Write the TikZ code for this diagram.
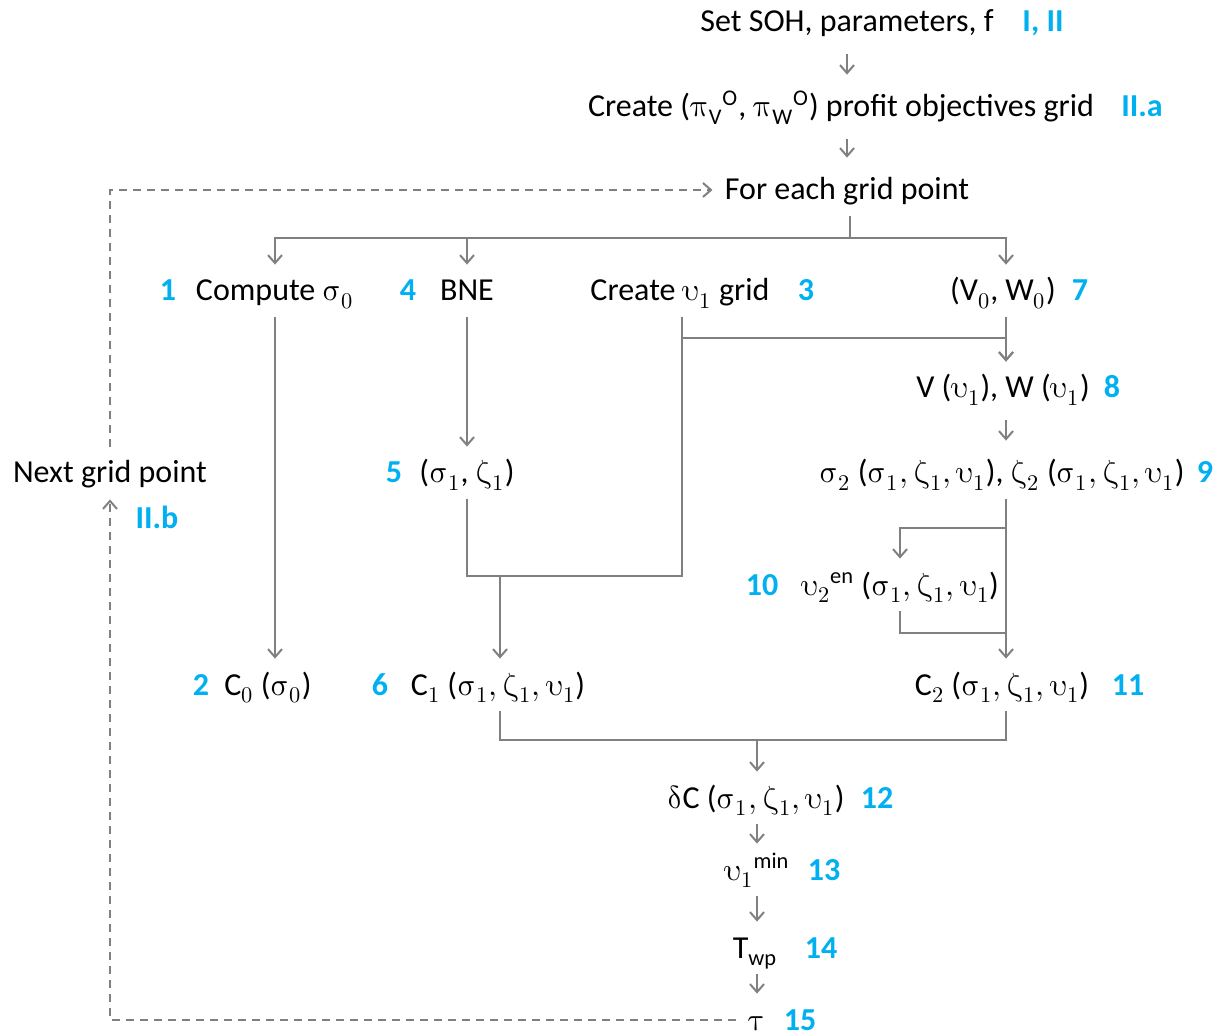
\documentclass[tikz,border=0pt]{standalone}
\usepackage{amsmath, amssymb}
\usepackage{fontspec}
\usepackage[math-style=upright]{unicode-math}
\setmainfont{Carlito}
\setmathfont{Latin Modern Math}
\usetikzlibrary{arrows.meta}
\definecolor{linegray}{HTML}{808080}
\definecolor{stepblue}{HTML}{00B0F0}

\begin{document}
\begin{tikzpicture}[x=0.5pt, y=-0.5pt,
  txt/.style={font=\fontsize{16}{19}\selectfont, text height=13pt, text depth=3pt, inner xsep=2pt, inner ysep=5pt},
  num/.style={txt, text=stepblue, font=\fontsize{16}{19}\selectfont\bfseries},
  flow/.style={draw=linegray, line width=1pt, -{Straight Barb[length=4pt,width=7pt]}},
  link/.style={draw=linegray, line width=1pt},
  back/.style={flow, dash pattern=on 4pt off 3pt},
  short/.style={shorten <=3pt, shorten >=3pt}]

\useasboundingbox (0,0) rectangle (1229,1036);

% set up
\node[txt] (set) at (847,22) {Set SOH, parameters, f};
\node[num] (nI) at (1043,22) {I, II};
\node[txt] (obj) at (841,107) {Create ($\pi$\textsubscript{V}\textsuperscript{O}, $\pi$\textsubscript{W}\textsuperscript{O}) profit objectives grid};
\node[num] (nIIa) at (1142,107) {II.a};
\node[txt] (each) at (847,190) {For each grid point};

% first row
\node[txt] (cmp) at (275,291) {Compute $\sigma_0$};
\node[num] (n1) at (168,291) {1};
\node[txt] (bne) at (467,291) {BNE};
\node[num] (n4) at (408,291) {4};
\node[txt] (ugrid) at (680,291) {Create $\upsilon_1$ grid};
\node[num] (n3) at (806,291) {3};
\node[txt] (vw0) at (1003,291) {(V$_0$, W$_0$)};
\node[num] (n7) at (1080,291) {7};

% middle
\node[txt] (vw1) at (1003,388) {V ($\upsilon_1$), W ($\upsilon_1$)};
\node[num] (n8) at (1112,388) {8};
\node[txt] (nextpt) at (110,473) {Next grid point};
\node[num] (nIIb) at (157,519) {II.b};
\node[txt] (sz1) at (467,473) {($\sigma_1$, $\zeta_1$)};
\node[num] (n5) at (394,473) {5};
\node[txt] (sz2) at (1002,473) {$\sigma_2$ ($\sigma_1, \zeta_1, \upsilon_1$), $\zeta_2$ ($\sigma_1, \zeta_1, \upsilon_1$)};
\node[num] (n9) at (1205,473) {9};
\node[txt] (uen) at (900,585) {$\upsilon_2$\textsuperscript{en} ($\sigma_1, \zeta_1, \upsilon_1$)};
\node[num] (n10) at (762,585) {10};

% costs
\node[txt] (czero) at (268,685) {C$_0$ ($\sigma_0$)};
\node[num] (n2) at (201,685) {2};
\node[txt] (cone) at (498,685) {C$_1$ ($\sigma_1, \zeta_1, \upsilon_1$)};
\node[num] (n6) at (380,685) {6};
\node[txt] (ctwo) at (1002,685) {C$_2$ ($\sigma_1, \zeta_1, \upsilon_1$)};
\node[num] (n11) at (1128,685) {11};

% result chain
\node[txt] (dc) at (756,798) {$\delta$C ($\sigma_1, \zeta_1, \upsilon_1$)};
\node[num] (n12) at (877,798) {12};
\node[txt] (umin) at (757,870) {$\upsilon_1$\textsuperscript{min}};
\node[num] (n13) at (824,870) {13};
\node[txt] (twp) at (755,948) {T\textsubscript{wp}};
\node[num] (n14) at (821,948) {14};
\node[txt] (tau) at (757,1020) {$\tau$};
\node[num] (n15) at (800,1020) {15};

% junctions
\coordinate (fork) at (850,238);
\coordinate (umerge) at (682,338);
\coordinate (cmerge) at (500,576);
\coordinate (sfork) at (1006,528);
\coordinate (sjoin) at (1006,633);
\coordinate (cjoin) at (757,740);

% arrows
\draw[flow, short] (set.south) -- (set.south |- obj.north);
\draw[flow, short] (obj.south -| set.south) -- (set.south |- each.north);
\draw[link] (fork |- each.south) -- (fork);
\draw[flow] (fork) -| (cmp.north);
\draw[flow] (fork) -| (bne.north);
\draw[flow] (fork) -| (sfork |- vw0.north);
\draw[flow] (cmp.south) -- (cmp.south |- czero.north);
\draw[flow] (bne.south) -- (sz1.north);
\draw[flow] (sfork |- vw0.south) -- (sfork |- vw1.north);
\draw[flow] (umerge) -| (sfork |- vw1.north);
\draw[link] (umerge |- ugrid.south) -- (umerge |- cmerge) -- (cmerge);
\draw[link] (sz1.south) |- (cmerge);
\draw[flow] (cmerge) -- (cmerge |- cone.north);
\draw[flow, short] (sfork |- vw1.south) -- (sfork |- sz2.north);
\draw[flow] (sfork |- sz2.south) -- (sfork |- ctwo.north);
\draw[flow] (sfork) -| (uen.north);
\draw[link] (uen.south) |- (sjoin);
\draw[link] (cmerge |- cone.south) |- (cjoin) -| (sfork |- ctwo.south);
\draw[flow] (cjoin) -- (cjoin |- dc.north);
\draw[flow] (cjoin |- dc.south) -- (cjoin |- umin.north);
\draw[flow] (cjoin |- umin.south) -- (cjoin |- twp.north);
\draw[flow] (cjoin |- twp.south) -- (tau.north);

% loop back
\draw[back, shorten <=4pt] (tau.west) -| (nextpt.south);
\draw[back, shorten >=4pt] (nextpt.north) |- (each.west);

\end{tikzpicture}
\end{document}
